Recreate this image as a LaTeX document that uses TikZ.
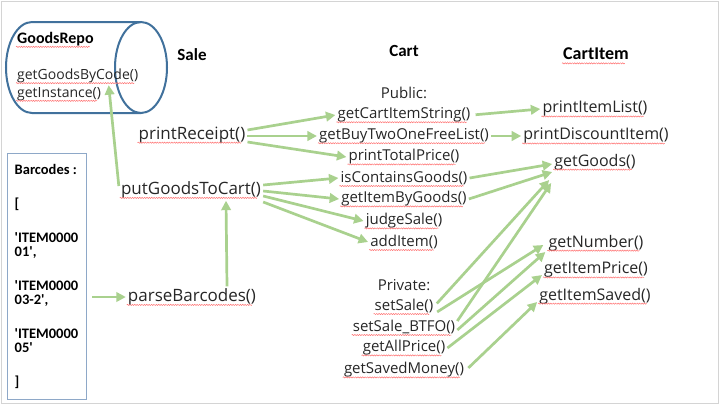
\documentclass[tikz,border=0pt]{standalone}
\usepackage{fontspec}
\setmainfont{Open Sans}
\newfontfamily\calfont{Carlito}
\usepackage{tikz}
\usetikzlibrary{arrows.meta}
\usetikzlibrary{decorations.pathmorphing}
\usepackage{xcolor}
\definecolor{callgreen}{HTML}{A9D18E}
\definecolor{repoblue}{HTML}{41719C}
\definecolor{barblue}{HTML}{8EA8C8}
\definecolor{framegray}{HTML}{D4D4D4}

\tikzset{
  meth/.style={inner sep=2pt, text=black!85, font=\fontsize{15}{17}\selectfont},
  wavy/.style={append after command={([xshift=1pt,yshift=-3.5pt]\tikzlastnode.base west) edge [red!55, line width=0.5pt, decorate, decoration={snake, amplitude=0.6pt, segment length=2.4pt}] ([xshift=-6pt,yshift=-3.5pt]\tikzlastnode.base east)}},
  umeth/.style={meth, wavy},
  salemeth/.style={umeth, font=\fontsize{17}{19}\selectfont},
  itemmeth/.style={umeth, font=\fontsize{16}{18}\selectfont},
  head/.style={inner sep=2pt, text=black, font=\calfont\bfseries\fontsize{17}{20}\selectfont},
  call/.style={callgreen, line width=2.7pt, -{Triangle[length=9.5pt,width=9.5pt]}},
}

\begin{document}
\begin{tikzpicture}[x=1pt,y=-1pt]
\useasboundingbox (0,0) rectangle (720,405);
\draw [framegray, line width=1pt] (1,1) rectangle (718,403);

\draw [repoblue, line width=2pt] (141,22) -- (32,22) arc [start angle=90, end angle=270, x radius=26pt, y radius=45.5pt] -- (141,113);
\draw [repoblue, line width=2pt] (141,67.5) ellipse [x radius=26pt, y radius=45.5pt];
\node [head, wavy, anchor=west, font=\calfont\bfseries\fontsize{16}{19}\selectfont] (repo) at (15,39) {GoodsRepo};
\node [umeth, anchor=west, font=\fontsize{14}{16}\selectfont] (gbc) at (15,76) {getGoodsByCode()};
\node [umeth, anchor=west, font=\fontsize{14}{16}\selectfont] (gin) at (15,94) {getInstance()};

\node [draw=barblue, line width=0.8pt, minimum width=79pt, minimum height=246pt, align=left, font=\calfont\bfseries\fontsize{14.5}{14}\selectfont] (bar) at (46.5,276)
  {Barcodes :\\[20pt] [\\[20pt] \textquotesingle ITEM0000\\01\textquotesingle,\\[20pt] \textquotesingle ITEM0000\\03-2\textquotesingle,\\[20pt] \textquotesingle ITEM0000\\05\textquotesingle\\[20pt] ]};

\node [head] (sale) at (192,55) {Sale};
\node [head] (cart) at (404,51) {Cart};
\node [head, wavy, font=\calfont\bfseries\fontsize{18}{21}\selectfont] (item) at (596,54) {CartItem};

\node [salemeth] (pr) at (192,135) {printReceipt()};
\node [salemeth] (pg) at (191,190) {putGoodsToCart()};
\node [salemeth] (pb) at (192,297) {parseBarcodes()};

\node [meth] (pub) at (404,93) {Public:};
\node [umeth] (gcis) at (404,115) {getCartItemString()};
\node [umeth] (gbt) at (404,136) {getBuyTwoOneFreeList()};
\node [umeth] (ptp) at (404,157) {printTotalPrice()};
\node [umeth] (icg) at (404,178) {isContainsGoods()};
\node [umeth] (gibg) at (404,199) {getItemByGoods()};
\node [umeth] (js) at (404,221) {judgeSale()};
\node [umeth] (ai) at (404,242) {addItem()};
\node [meth] (priv) at (404,285) {Private:};
\node [umeth] (ss) at (404,306) {setSale()};
\node [umeth] (ssb) at (404,327) {setSale\_BTFO()};
\node [umeth] (gap) at (404,348) {getAllPrice()};
\node [umeth] (gsm) at (404,370) {getSavedMoney()};

\node [itemmeth] (pil) at (595,109) {printItemList()};
\node [itemmeth] (pdi) at (596,136) {printDiscountItem()};
\node [itemmeth] (gg) at (595,162) {getGoods()};
\node [itemmeth] (gn) at (596,243) {getNumber()};
\node [itemmeth] (gip) at (596,270) {getItemPrice()};
\node [itemmeth] (gis) at (595,296) {getItemSaved()};

\draw [call, shorten <=6pt] (bar.east |- pb.west) -- (pb.west);
\draw [call] ([xshift=35pt]pb.north) -- ([xshift=35pt]pg.south);
\draw [call] ([yshift=4pt]pg.west) -- ([xshift=31pt]gbc.south);

\draw [call] ([yshift=5pt]pr.east) -- (gcis.west);
\draw [call] ([yshift=-1pt]pr.east) -- (gbt.west);
\draw [call] ([yshift=-7pt]pr.east) -- (ptp.west);
\draw [call] ([yshift=5pt]pg.east) -- (icg.west);
\draw [call] ([yshift=-1pt]pg.east) -- (gibg.west);
\draw [call] ([yshift=-6pt]pg.east) -- (js.west);
\draw [call] ([yshift=-12pt]pg.east) -- (ai.west);

\draw [call, shorten <=3pt] (gcis.east) -- (pil.west);
\draw [call] (gbt.east) -- (pdi.west);
\draw [call] (icg.east) -- ([yshift=-2pt]gg.west);
\draw [call] (gibg.east) -- ([yshift=-10pt]gg.west);
\draw [call, shorten <=2pt] ([yshift=1pt]ss.east) -- ([xshift=-3pt,yshift=-18pt]gg.west);
\draw [call, shorten <=2pt] ([yshift=-7pt]ss.east) -- ([xshift=-3pt,yshift=-2pt]gn.west);
\draw [call] ([yshift=6pt]ssb.east) -- ([xshift=-1pt,yshift=-21pt]gg.west);
\draw [call] ([yshift=-3pt]ssb.east) -- ([xshift=-1pt,yshift=-9pt]gn.west);
\draw [call] (gap.east) -- ([yshift=-5pt]gip.west);
\draw [call, shorten <=3pt] (gsm.east) -- ([yshift=-6pt]gis.west);
\end{tikzpicture}
\end{document}
